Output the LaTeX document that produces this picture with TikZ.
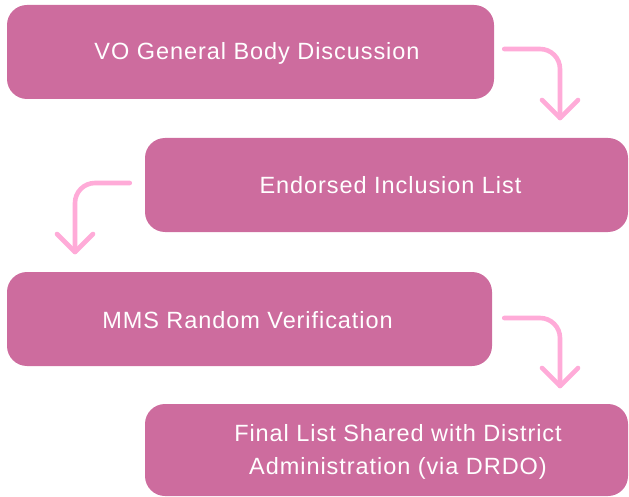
\documentclass[tikz,border=0pt]{standalone}
\usepackage{fontspec}
\setmainfont{Liberation Sans}[LetterSpace=4]
\usetikzlibrary{calc}
\definecolor{boxpink}{RGB}{205,108,158}
\definecolor{arrowpink}{RGB}{255,171,216}
\begin{document}
\begin{tikzpicture}[x=1pt,y=-1pt,
  box/.style={fill=boxpink, rounded corners=20pt, draw=none, inner sep=0pt, minimum height=94pt},
  lbl/.style={text=white, font=\fontsize{23.5}{33}\selectfont, align=center, inner sep=0pt},
  flow/.style={draw=arrowpink, line width=4.6pt, line cap=round, line join=round, rounded corners=20pt},
  chev/.style={draw=arrowpink, line width=4.6pt, line cap=round, line join=round}]
\useasboundingbox (0,0) rectangle (629,497);
% boxes
\node[box, minimum width=487pt] (b1) at (250.5,52) {};
\node[box, minimum width=483pt] (b2) at (386.5,185) {};
\node[box, minimum width=485pt] (b3) at (249.5,319) {};
\node[box, minimum width=483pt, minimum height=92pt] (b4) at (386.5,450) {};
% labels
\node[lbl, anchor=base] (t1) at (257,60) {VO General Body Discussion};
\node[lbl, anchor=base] (t2) at (390.5,193.5) {Endorsed Inclusion List};
\node[lbl, anchor=base] (t3) at (247.5,328) {MMS Random Verification};
\node[lbl] (t4) at (398,452) {Final List Shared with District\\Administration (via DRDO)};
% connector coordinates
\coordinate (a1s) at ($(b1.east)+(10,-3)$);
\coordinate (a1c) at (560,49);
\coordinate (a1e) at (560,118);
\coordinate (a2s) at ($(b2.west)+(-15,-2)$);
\coordinate (a2c) at (75,183);
\coordinate (a2e) at (75,252);
\coordinate (a3s) at ($(b3.east)+(12,-1)$);
\coordinate (a3c) at (560,318);
\coordinate (a3e) at (560,386);
% connectors
\draw[flow] (a1s) -- (a1c) -- (a1e);
\draw[chev] ($(a1e)+(-18,-18)$) -- (a1e) -- ($(a1e)+(18,-18)$);
\draw[flow] (a2s) -- (a2c) -- (a2e);
\draw[chev] ($(a2e)+(-18,-18)$) -- (a2e) -- ($(a2e)+(18,-18)$);
\draw[flow] (a3s) -- (a3c) -- (a3e);
\draw[chev] ($(a3e)+(-18,-18)$) -- (a3e) -- ($(a3e)+(18,-18)$);
\end{tikzpicture}
\end{document}
